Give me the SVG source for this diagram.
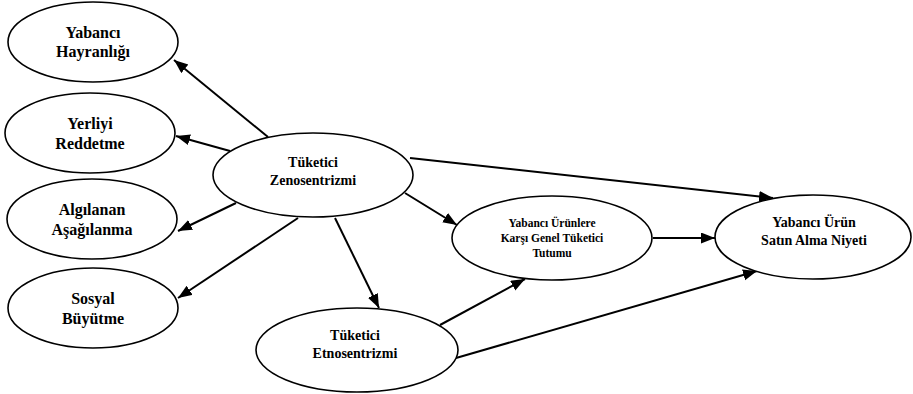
<svg xmlns="http://www.w3.org/2000/svg" width="913" height="394" viewBox="0 0 913 394">
<style>
.n ellipse{fill:#fff;stroke:#000;stroke-width:1.6}
.t{font-family:"Liberation Serif","Times New Roman",serif;font-weight:bold;fill:#000;text-anchor:middle}
.e line{stroke:#000;stroke-width:2;marker-end:url(#ah)}
</style>
<defs>
<marker id="ah" markerUnits="userSpaceOnUse" markerWidth="15" markerHeight="12" refX="14" refY="5.5" orient="auto">
<path d="M0,0 L14,5.5 L0,11 z" fill="#000"/>
</marker>
</defs>
<rect width="913" height="394" fill="#fff"/>
<g id="connectors" class="e">
<line x1="268" y1="137" x2="174" y2="60"/>
<line x1="230" y1="151" x2="176" y2="136"/>
<line x1="236" y1="203" x2="178" y2="231"/>
<line x1="298" y1="218" x2="178" y2="298"/>
<line x1="335" y1="218" x2="379" y2="308"/>
<line x1="405" y1="193" x2="457" y2="225"/>
<line x1="410" y1="158" x2="773" y2="198"/>
<line x1="653" y1="238" x2="715" y2="238"/>
<line x1="440" y1="325" x2="525" y2="279"/>
<line x1="456" y1="358" x2="757" y2="271"/>
</g>
<g id="n-hayranligi" class="n">
<ellipse cx="93" cy="42" rx="85" ry="40"/>
<text class="t" font-size="16" x="93" y="38">Yabancı</text>
<text class="t" font-size="16" x="93" y="57">Hayranlığı</text>
</g>
<g id="n-reddetme" class="n">
<ellipse cx="90" cy="133" rx="85" ry="40"/>
<text class="t" font-size="16" x="90" y="129">Yerliyi</text>
<text class="t" font-size="16" x="90" y="149">Reddetme</text>
</g>
<g id="n-asagilanma" class="n">
<ellipse cx="92" cy="219" rx="85" ry="40"/>
<text class="t" font-size="16" x="92" y="215">Algılanan</text>
<text class="t" font-size="16" x="92" y="235">Aşağılanma</text>
</g>
<g id="n-buyutme" class="n">
<ellipse cx="93" cy="308" rx="85" ry="40"/>
<text class="t" font-size="16" x="93" y="304">Sosyal</text>
<text class="t" font-size="16" x="93" y="324">Büyütme</text>
</g>
<g id="n-zeno" class="n">
<ellipse cx="313" cy="175" rx="100" ry="42"/>
<text class="t" font-size="14" x="313" y="167">Tüketici</text>
<text class="t" font-size="14" x="313" y="185">Zenosentrizmi</text>
</g>
<g id="n-etno" class="n">
<ellipse cx="357" cy="350" rx="101" ry="42"/>
<text class="t" font-size="14" x="355" y="340">Tüketici</text>
<text class="t" font-size="14" x="355" y="358">Etnosentrizmi</text>
</g>
<g id="n-tutum" class="n">
<ellipse cx="552" cy="238" rx="100" ry="42"/>
<text class="t" font-size="11.5" x="552" y="227">Yabancı Ürünlere</text>
<text class="t" font-size="11.5" x="552" y="242">Karşı Genel Tüketici</text>
<text class="t" font-size="11.5" x="552" y="257">Tutumu</text>
</g>
<g id="n-niyet" class="n">
<ellipse cx="813" cy="237" rx="98" ry="42"/>
<text class="t" font-size="14" x="814" y="227">Yabancı Ürün</text>
<text class="t" font-size="14" x="814" y="245">Satın Alma Niyeti</text>
</g>
</svg>
